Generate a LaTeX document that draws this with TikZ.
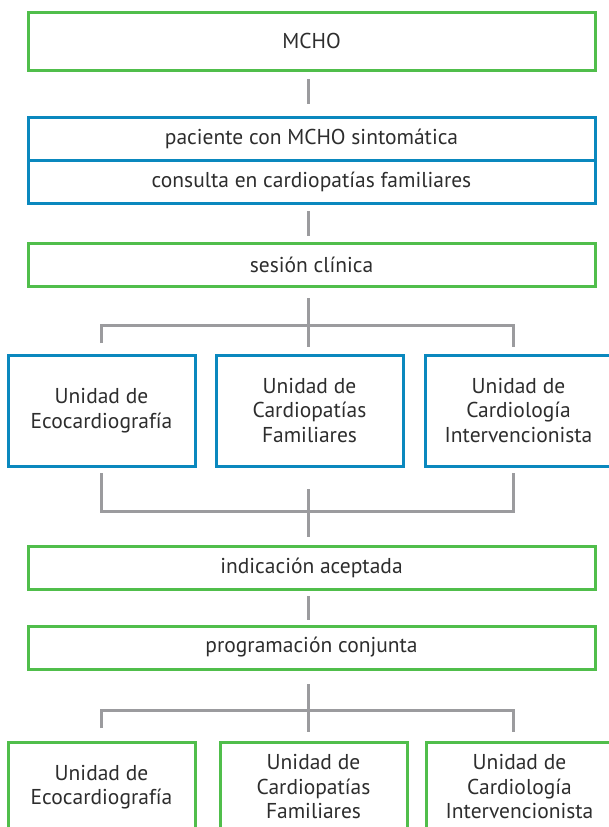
\documentclass[tikz,border=0pt]{standalone}
\usepackage{fontspec}
\setmainfont{PT Sans}
\usetikzlibrary{positioning}
\definecolor{boxgreen}{RGB}{80,190,75}
\definecolor{boxblue}{RGB}{10,136,190}
\definecolor{linegray}{RGB}{155,155,158}
\definecolor{txtgray}{RGB}{45,45,45}
\begin{document}
\begin{tikzpicture}[x=1pt,y=1pt,
    every node/.style={font=\fontsize{21.5}{24.5}\selectfont,text=txtgray,align=center,outer sep=0pt},
    greenbox/.style={draw=boxgreen,line width=3pt,minimum width=567pt,minimum height=43pt},
    bluebox/.style={greenbox,draw=boxblue},
    unitbox/.style={draw=boxblue,line width=3pt,minimum width=187pt,minimum height=111pt},
    unitgreen/.style={unitbox,draw=boxgreen,minimum height=90pt},
    link/.style={draw=linegray,line width=3pt}]
  \useasboundingbox (0,0) rectangle (609,-827);
  \clip (0,0) rectangle (609,-827);
  \coordinate (xl) at (101.5,0);
  \coordinate (xm) at (308,0);
  \coordinate (xr) at (513,0);
  % boxes
  \node (mcho) [greenbox,minimum height=58pt] at (311.5,-41) {MCHO};
  \node (pac) [bluebox,below=47pt of mcho] {paciente con MCHO sintomática};
  \node (cons) [bluebox,below=0pt of pac] {consulta en cardiopatías familiares};
  \node (ses) [greenbox,below=40pt of cons] {sesión clínica};
  \node (ucf1) [unitbox,below=69pt of ses,xshift=-2pt] {Unidad de\\Cardiopatías\\Familiares};
  \node (ueco1) [unitbox,left=21pt of ucf1] {Unidad de\\Ecocardiografía};
  \node (uci1) [unitbox,right=22pt of ucf1] {Unidad de\\Cardiología\\Intervencionista};
  \node (ind) [greenbox,below=80pt of ucf1,xshift=2pt] {indicación aceptada};
  \node (prog) [greenbox,below=37pt of ind] {programación conjunta};
  \node (ucf2) [unitgreen,below=73pt of prog,xshift=2pt] {Unidad de\\Cardiopatías\\Familiares};
  \node (ueco2) [unitgreen,left=25pt of ucf2] {Unidad de\\Ecocardiografía};
  \node (uci2) [unitgreen,right=19pt of ucf2] {Unidad de\\Cardiología\\Intervencionista};
  % connectors
  \draw [link] ([yshift=-9pt]mcho.south -| xm) -- ([yshift=13pt]pac.north -| xm);
  \draw [link] ([yshift=-8pt]cons.south -| xm) -- ([yshift=7pt]ses.north -| xm);
  \draw [link] ([yshift=-12pt]ses.south -| xm) -- ([yshift=8pt]ucf1.north -| xm);
  \draw [link] ([yshift=12pt]ueco1.north -| xl) |- ([yshift=30pt]ucf1.north -| xm) -| ([yshift=8pt]uci1.north -| xr);
  \draw [link] ([yshift=-7pt]ueco1.south -| xl) |- ([yshift=-45pt]ucf1.south -| xm) -| ([yshift=-7pt]uci1.south -| xr);
  \draw [link] ([yshift=-23pt]ucf1.south -| xm) -- ([yshift=9pt]ind.north -| xm);
  \draw [link] ([yshift=-7pt]ind.south -| xm) -- ([yshift=6pt]prog.north -| xm);
  \draw [link] ([yshift=-15pt]prog.south -| xm) -- ([yshift=10pt]ucf2.north -| xm);
  \draw [link] ([yshift=14pt]ueco2.north -| xl) |- ([yshift=32pt]ucf2.north -| xm) -| ([yshift=10pt]uci2.north -| xr);
\end{tikzpicture}
\end{document}
